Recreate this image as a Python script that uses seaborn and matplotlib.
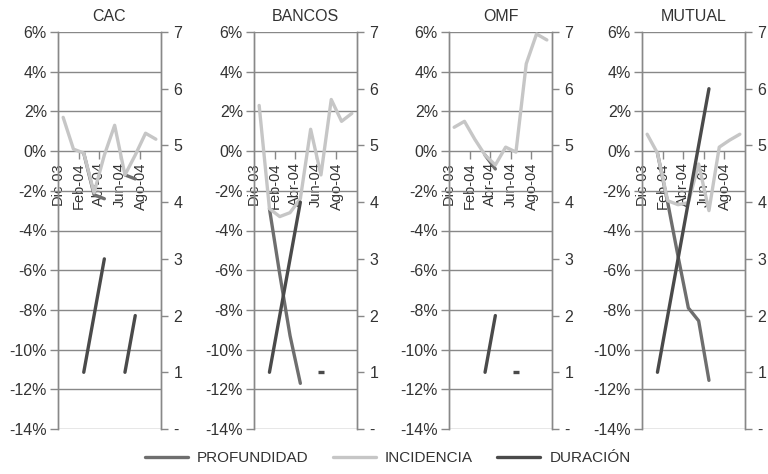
import numpy as np
import pandas as pd
import seaborn as sns
import matplotlib.pyplot as plt
from matplotlib.lines import Line2D
from matplotlib.ticker import FuncFormatter, FixedLocator
from matplotlib.transforms import ScaledTranslation

nan = np.nan

# monthly categories, Dic-03 .. Sep-04
months = ["Dic-03", "Ene-04", "Feb-04", "Mar-04", "Abr-04",
          "May-04", "Jun-04", "Jul-04", "Ago-04", "Sep-04"]
panels = ["CAC", "BANCOS", "OMF", "MUTUAL"]

# INCIDENCIA (%), left axis
inc_cac = [1.7, 0.1, -0.1, -2.1, -0.2, 1.3, -1.2, -0.2, 0.9, 0.6]
inc_bancos = [2.3, -2.9, -3.3, -3.1, -2.4, 1.1, -1.2, 2.6, 1.5, 1.9]
inc_omf = [1.2, 1.5, 0.6, -0.2, -0.7, 0.2, -0.05, 4.4, 5.9, 5.6]
inc_mutual = [0.85, -0.1, -2.5, -2.7, -2.6, -0.65, -3.0, 0.2, 0.55, 0.85]

# PROFUNDIDAD (%), left axis
prof_cac = [nan, nan, -0.1, -2.2, -2.4, nan, -1.2, -1.4, nan, nan]
prof_bancos = [nan, -2.9, -6.2, -9.3, -11.7, nan, -1.2, nan, nan, nan]
prof_omf = [nan, nan, nan, -0.2, -0.9, nan, -0.05, nan, nan, nan]
prof_mutual = [nan, -0.1, -2.6, -5.3, -7.9, -8.55, -11.55, nan, nan, nan]

# DURACION (months), right axis
dur_cac = [nan, nan, 1, 2, 3, nan, 1, 2, nan, nan]
dur_bancos = [nan, 1, 2, 3, 4, nan, 1, nan, nan, nan]
dur_omf = [nan, nan, nan, 1, 2, nan, 1, nan, nan, nan]
dur_mutual = [nan, 1, 2, 3, 4, 5, 6, nan, nan, nan]

incidencia = [inc_cac, inc_bancos, inc_omf, inc_mutual]
profundidad = [prof_cac, prof_bancos, prof_omf, prof_mutual]
duracion = [dur_cac, dur_bancos, dur_omf, dur_mutual]

c_prof = "#6e6e6e"
c_inc = "#c6c6c6"
c_dur = "#4a4a4a"
grid_c = "#888888"
txt_c = "#333333"


def to_frame(values):
    # split into contiguous runs so gaps stay gaps
    df = pd.DataFrame({"x": np.arange(len(values)), "y": values})
    df["seg"] = df["y"].isna().cumsum()
    return df.dropna()


def draw_series(values, color, ax, dash_single=False):
    df = to_frame(values)
    sns.lineplot(data=df, x="x", y="y", units="seg", estimator=None,
                 color=color, lw=2.4, ax=ax)
    if not dash_single:
        return
    # a lone month shows up as a short dash
    single = df[df.groupby("seg")["y"].transform("size") == 1]
    if len(single):
        sns.lineplot(data=single, x="x", y="y", units="seg", estimator=None,
                     color=color, lw=0, marker="_", markersize=4.5, markeredgewidth=2.4,
                     markeredgecolor=color, ax=ax)


sns.set_style("white")
plt.rcParams["font.family"] = ["Liberation Sans", "DejaVu Sans"]

fig = plt.figure(figsize=(7.68, 4.74), dpi=100)
W, H = 768, 474
lefts = [58, 254, 449, 642]
top_px, bot_px, width_px = 32, 429, 103

for i, name in enumerate(panels):
    ax = fig.add_axes([lefts[i] / W, (H - bot_px) / H, width_px / W, (bot_px - top_px) / H])
    ax2 = ax.twinx()

    draw_series(profundidad[i], c_prof, ax)
    draw_series(incidencia[i], c_inc, ax)
    draw_series(duracion[i], c_dur, ax2, dash_single=True)

    ax.set_xlim(-0.5, 9.5)
    ax.set_ylim(-14, 6)
    ax2.set_ylim(0, 7)
    ax.set_xlabel("")
    ax.set_ylabel("")
    ax2.set_ylabel("")

    ax.set_yticks(np.arange(-14, 7, 2))
    ax.yaxis.set_major_formatter(FuncFormatter(lambda v, p: f"{v:.0f}%"))
    ax.grid(axis="y", color=grid_c, lw=1.0)
    ax.grid(axis="x", visible=False)
    ax.tick_params(axis="y", direction="out", length=6, width=1, color=grid_c,
                   labelsize=11.5, labelcolor=txt_c, pad=2, left=True)

    ax2.set_yticks(np.arange(0, 8, 1))
    ax2.yaxis.set_major_formatter(FuncFormatter(lambda v, p: "-" if v == 0 else f"{v:.0f}"))
    ax2.tick_params(axis="y", direction="out", length=5, width=1, color=grid_c,
                    labelsize=11.5, labelcolor=txt_c, pad=4)

    # category axis crossing at 0%
    ax.spines["bottom"].set_position(("data", 0))
    ax.xaxis.set_major_locator(FixedLocator([1.5, 3.5, 5.5, 7.5]))
    ax.xaxis.set_minor_locator(FixedLocator([0, 2, 4, 6, 8]))
    ax.set_xticklabels([], minor=False)
    ax.set_xticklabels(months[::2], minor=True, rotation=90, va="top", ha="center")
    ax.tick_params(axis="x", which="major", direction="out", length=6, width=1,
                   color=grid_c, bottom=True)
    ax.tick_params(axis="x", which="minor", length=0, pad=8, labelsize=10.5,
                   labelcolor=txt_c, bottom=True)
    shift = ScaledTranslation(-5 / 100, 0, fig.dpi_scale_trans)
    for lab in ax.get_xticklabels(minor=True):
        lab.set_transform(lab.get_transform() + shift)

    for a in (ax, ax2):
        for s in ("top", "bottom"):
            a.spines[s].set_visible(False)
        for s in ("left", "right"):
            a.spines[s].set_color(grid_c)
            a.spines[s].set_linewidth(1)
    ax.set_title(name, fontsize=11.5, color=txt_c, pad=8)

handles = [Line2D([], [], color=c_prof, lw=2.4),
           Line2D([], [], color=c_inc, lw=2.4),
           Line2D([], [], color=c_dur, lw=2.4)]
fig.legend(handles, ["PROFUNDIDAD", "INCIDENCIA", "DURACIÓN"], loc="lower center",
           ncol=3, frameon=False, fontsize=11, handlelength=2.8, handletextpad=0.6,
           columnspacing=1.6, bbox_to_anchor=(0.505, -0.01), labelcolor=txt_c)

fig.savefig("out.png", dpi=100)
